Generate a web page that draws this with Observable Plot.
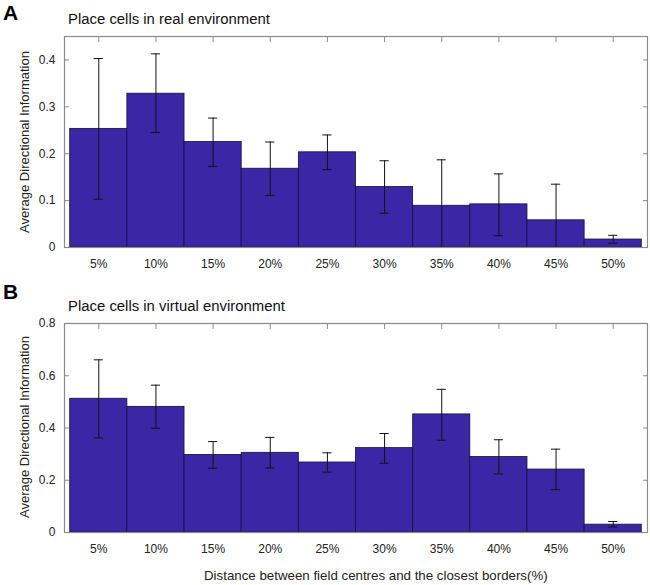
<!DOCTYPE html>
<html>
<head>
<meta charset="utf-8">
<script src="https://cdn.jsdelivr.net/npm/d3@7"></script>
<script src="https://cdn.jsdelivr.net/npm/@observablehq/plot@0.6"></script>
<style>
  html, body { margin: 0; padding: 0; background: #fff; }
  #root { position: relative; width: 650px; height: 585px; font-family: Arial, "Liberation Sans", sans-serif; color: #222; }
  .letter { position: absolute; z-index: 2; font-weight: bold; font-size: 21px; line-height: 21px; color: #000; }
  .title { position: absolute; z-index: 2; font-size: 14.9px; line-height: 16px; color: #111; white-space: nowrap; }
  .xlabel { position: absolute; z-index: 2; font-size: 13.3px; line-height: 14px; color: #222; white-space: nowrap; }
  .ylabel { position: absolute; z-index: 2; font-size: 13px; line-height: 14px; color: #222; white-space: nowrap;
            transform: translate(-50%, -50%) rotate(-90deg); }
  .panel { position: absolute; left: 0; z-index: 1; }
</style>
</head>
<body>
<div id="root">
  <div class="letter" style="left:3px;top:2px;">A</div>
  <div class="title" style="left:68px;top:11px;">Place cells in real environment</div>
  <div class="ylabel" style="left:25px;top:142px;">Average Directional Information</div>
  <div class="panel" id="pa" style="top:0px;"></div>
  <div class="letter" style="left:3px;top:281px;">B</div>
  <div class="title" style="left:68px;top:298px;">Place cells in virtual environment</div>
  <div class="ylabel" style="left:25px;top:427px;">Average Directional Information</div>
  <div class="panel" id="pb" style="top:280px;"></div>
  <div class="xlabel" style="left:204px;top:569px;">Distance between field centres and the closest borders(%)</div>
</div>
<script>
const categories = ["5%", "10%", "15%", "20%", "25%", "30%", "35%", "40%", "45%", "50%"];

// Panel A: place cells in real environment
const realMean = [0.253, 0.328, 0.225, 0.168, 0.203, 0.129, 0.089, 0.092, 0.058, 0.017];
const realHigh = [0.403, 0.413, 0.276, 0.225, 0.240, 0.185, 0.187, 0.157, 0.135, 0.026];
const realLow  = [0.103, 0.245, 0.173, 0.111, 0.166, 0.073, 0.000, 0.025, 0.000, 0.009];
const realTicks = [0, 0.1, 0.2, 0.3, 0.4];
const realTickLabels = ["0", "0.1", "0.2", "0.3", "0.4"];

// Panel B: place cells in virtual environment
const virtMean = [0.512, 0.481, 0.297, 0.305, 0.268, 0.323, 0.452, 0.289, 0.241, 0.030];
const virtHigh = [0.661, 0.564, 0.348, 0.364, 0.305, 0.379, 0.548, 0.355, 0.319, 0.042];
const virtLow  = [0.362, 0.399, 0.246, 0.247, 0.231, 0.265, 0.353, 0.224, 0.164, 0.021];
const virtTicks = [0, 0.2, 0.4, 0.6, 0.8];
const virtTickLabels = ["0", "0.2", "0.4", "0.6", "0.8"];

const barColor = "#3b27a6";

function makePanel(mean, low, high, yMax, ticks, tickLabels, marginTop, height) {
  const data = categories.map((c, i) => ({cat: c, mean: mean[i], low: low[i], high: high[i]}));
  const fmt = v => tickLabels[ticks.indexOf(v)];
  return Plot.plot({
    width: 650,
    height: height,
    marginLeft: 64,
    marginRight: 3,
    marginTop: marginTop,
    marginBottom: 28,
    style: {fontFamily: "Arial, 'Liberation Sans', sans-serif", fontSize: "12px", color: "#222", background: "transparent"},
    x: {type: "band", domain: categories, paddingInner: 0, paddingOuter: 0.1, round: false},
    y: {domain: [0, yMax]},
    marks: [
      Plot.barY(data, {x: "cat", y: "mean", fill: barColor, stroke: "#14103a", strokeWidth: 0.8, inset: 0}),
      Plot.ruleX(data, {x: "cat", y1: "low", y2: "high", stroke: "#111", strokeWidth: 1}),
      Plot.tickY(data, {x: "cat", y: "high", stroke: "#111", strokeWidth: 1, insetLeft: 24, insetRight: 24}),
      Plot.tickY(data, {x: "cat", y: "low", stroke: "#111", strokeWidth: 1, insetLeft: 24, insetRight: 24}),
      Plot.frame({stroke: "#8a8a8a", strokeWidth: 1.2}),
      Plot.axisY({anchor: "left", ticks: ticks, tickSize: -5, tickPadding: 14, tickFormat: fmt, stroke: "#8a8a8a", fill: "#222", fontSize: 12, label: null}),
      Plot.axisY({anchor: "right", ticks: ticks, tickSize: -5, tickFormat: () => "", stroke: "#8a8a8a", label: null}),
      Plot.axisX({anchor: "top", tickSize: -5, tickFormat: () => "", stroke: "#8a8a8a", label: null}),
      Plot.axisX({anchor: "bottom", tickSize: 0, tickPadding: 12, fill: "#222", fontSize: 12, label: null})
    ]
  });
}

document.getElementById("pa").appendChild(makePanel(realMean, realLow, realHigh, 0.45, realTicks, realTickLabels, 36, 275));
document.getElementById("pb").appendChild(makePanel(virtMean, virtLow, virtHigh, 0.8, virtTicks, virtTickLabels, 43, 280));
</script>
</body>
</html>
